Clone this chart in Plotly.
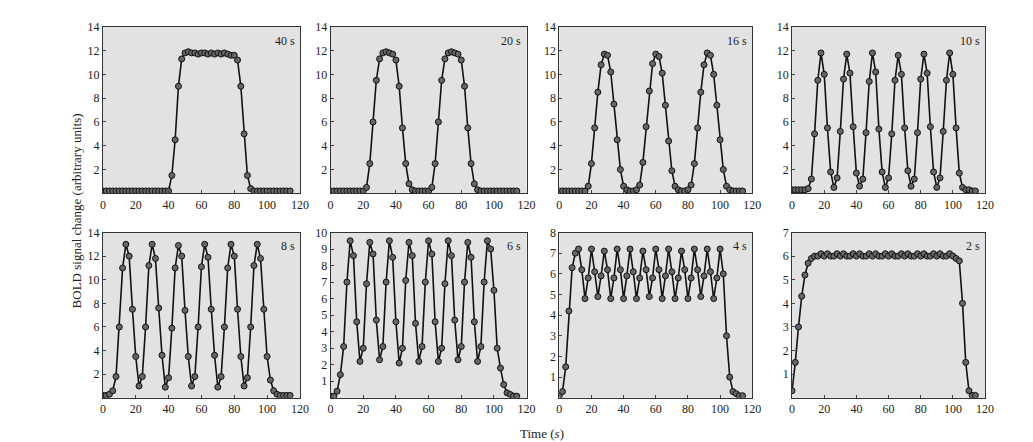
import plotly.graph_objects as go
from plotly.subplots import make_subplots

# sample times (s)
time_s = [0, 2, 4, 6, 8, 10, 12, 14, 16, 18, 20, 22, 24, 26, 28, 30, 32, 34, 36, 38,
          40, 42, 44, 46, 48, 50, 52, 54, 56, 58, 60, 62, 64, 66, 68, 70, 72, 74, 76, 78,
          80, 82, 84, 86, 88, 90, 92, 94, 96, 98, 100, 102, 104, 106, 108, 110, 112, 114]

bold_40s = [0.2] * 21 + [1.5, 4.5, 9, 11.3, 11.8,
            11.9, 11.8, 11.8, 11.7, 11.8, 11.8, 11.7, 11.8, 11.7, 11.8, 11.7, 11.8, 11.7, 11.6, 11.6,
            11.2, 9, 5, 1.5, 0.4] + [0.2] * 12
bold_20s = [0.2] * 11 + [0.5, 2.5, 6, 9.5, 11.3, 11.8, 11.9, 11.8, 11.7, 11.2, 9, 5.5, 2.5, 0.8, 0.3,
            0.2, 0.2, 0.2, 0.2, 0.2,
            0.5, 2.5, 6, 9.5, 11.3, 11.8, 11.9, 11.8, 11.7, 11.2, 9, 5.5, 2.5, 0.8, 0.3] + [0.2] * 12
bold_16s = [0.2] * 9 + [0.6, 2.5, 5.5, 8.5, 10.8, 11.7, 11.6, 10.2, 7.5, 4.5, 2.0, 0.6, 0.3, 0.2, 0.2, 0.3,
            0.7, 2.6, 5.6, 8.6, 10.9, 11.7, 11.5, 10.1, 7.4, 4.4, 1.9, 0.6, 0.3, 0.2, 0.2, 0.3,
            0.7, 2.5, 5.5, 8.5, 10.8, 11.8, 11.6, 10.0, 7.4, 4.5, 2.0, 0.6, 0.3, 0.2, 0.2, 0.2, 0.2]
bold_10s = [0.3, 0.3, 0.3, 0.3, 0.3, 0.4,
            1.2, 5, 9.5, 11.8, 10, 5.5, 1.8, 0.5,
            1.3, 5.2, 9.6, 11.7, 10.1, 5.6, 1.7, 0.6,
            1.2, 5.1, 9.4, 11.8, 10.2, 5.4, 1.8, 0.5,
            1.3, 5, 9.5, 11.6, 10, 5.5, 1.9, 0.6,
            1.2, 5.1, 9.6, 11.7, 10.1, 5.6, 1.8, 0.5,
            1.3, 5.2, 9.5, 11.8, 10, 5.5, 1.7, 0.5,
            0.3, 0.3, 0.2, 0.2]
bold_8s = [0.2, 0.2, 0.3, 0.6,
           1.8, 6, 11, 13, 12, 7.5, 3.5, 1.0,
           1.8, 6, 11.2, 13, 11.8, 7.6, 3.6, 0.9,
           1.7, 5.9, 11, 12.9, 12, 7.4, 3.5, 1.0,
           1.8, 6, 11.1, 13, 11.9, 7.5, 3.6, 0.9,
           1.8, 6, 11, 13, 12, 7.5, 3.5, 1.0,
           1.7, 6, 11.2, 13, 11.8, 7.5, 3.5, 1.5,
           0.6, 0.3, 0.2, 0.2, 0.2, 0.2]
bold_6s = [0.1, 0.1, 0.4, 1.4,
           3.1, 7, 9.5, 8.6, 4.6, 2.2,
           3.0, 6.9, 9.4, 8.7, 4.7, 2.3,
           3.1, 7, 9.5, 8.5, 4.6, 2.1,
           3.0, 7.1, 9.4, 8.6, 4.5, 2.2,
           3.1, 7, 9.5, 8.7, 4.6, 2.2,
           3.0, 6.9, 9.5, 8.6, 4.7, 2.3,
           3.1, 7, 9.4, 8.5, 4.6, 2.2,
           3.1, 7, 9.5, 9.0, 6.5, 3.0, 1.8, 0.8, 0.3, 0.2, 0.1, 0.1]
bold_4s = [0.1, 0.3, 1.5, 4.2, 6.3, 7.0,
           7.2, 6.2, 4.8, 5.8, 7.2, 6.1, 4.9, 5.9, 7.1, 6.2, 4.8, 5.8, 7.2, 6.2, 4.8, 5.9,
           7.2, 6.1, 4.8, 5.8, 7.1, 6.2, 4.9, 5.8, 7.2, 6.2, 4.8, 5.9, 7.2, 6.1, 4.8, 5.8,
           7.1, 6.2, 4.8, 5.8, 7.2, 6.2, 4.9, 5.9, 7.2, 6.1, 4.8, 5.8, 7.2, 6.0,
           3.0, 1.0, 0.3, 0.2, 0.1, 0.1]
bold_2s = [0.3, 1.5, 3.0, 4.3, 5.2, 5.7, 5.9, 6.0,
           6.0, 6.1, 6.0, 6.1, 6.0, 6.0, 6.1, 6.0, 6.1, 6.0, 6.0, 6.1, 6.0, 6.1, 6.0, 6.0,
           6.1, 6.0, 6.1, 6.0, 6.0, 6.1, 6.0, 6.1, 6.0, 6.0, 6.1, 6.0, 6.1, 6.0, 6.0, 6.1,
           6.0, 6.1, 6.0, 6.0, 6.1, 6.0, 6.1, 6.0, 6.0, 6.1, 6.0, 5.9,
           5.8, 4.0, 1.5, 0.3, 0.1, 0.1]

panels = [("40 s", bold_40s, 14), ("20 s", bold_20s, 14), ("16 s", bold_16s, 14), ("10 s", bold_10s, 14),
          ("8 s", bold_8s, 14), ("6 s", bold_6s, 10), ("4 s", bold_4s, 8), ("2 s", bold_2s, 7)]

x_domains = [[0.090, 0.283], [0.313, 0.505], [0.537, 0.726], [0.765, 0.954]]
y_domains = [[0.590, 0.973], [0.120, 0.500]]

fig = make_subplots(rows=2, cols=4)
font = dict(family="Liberation Serif", size=12, color="#222")

for k, (label, vals, ymax) in enumerate(panels):
    r, c = k // 4 + 1, k % 4 + 1
    fig.add_trace(go.Scatter(x=time_s, y=vals, mode="lines+markers",
                             line=dict(color="#111", width=1.6),
                             marker=dict(size=6, color="#666", line=dict(color="#111", width=1)),
                             showlegend=False), row=r, col=c)
    step = 1 if ymax <= 10 else 2
    fig.update_xaxes(domain=x_domains[c - 1], range=[0, 120], tickvals=[0, 20, 40, 60, 80, 100, 120],
                     showgrid=False, zeroline=False, showline=True, linecolor="#333", mirror=True,
                     ticks="inside", ticklen=3, tickfont=font, row=r, col=c)
    fig.update_yaxes(domain=y_domains[r - 1], range=[0, ymax],
                     tickvals=list(range(step, ymax + 1, step)),
                     showgrid=False, zeroline=False, showline=True, linecolor="#333", mirror=True,
                     ticks="inside", ticklen=3, tickfont=font, row=r, col=c)
    xa = "x" if k == 0 else f"x{k + 1}"
    ya = "y" if k == 0 else f"y{k + 1}"
    fig.add_annotation(x=118, y=ymax * 0.97, xref=xa, yref=ya, text=label, showarrow=False,
                       xanchor="right", yanchor="top", font=font)

fig.add_annotation(x=0.055, y=0.55, xref="paper", yref="paper", text="BOLD signal change (arbitrary units)",
                   textangle=-90, showarrow=False, font=dict(family="Liberation Serif", size=13, color="#222"))
fig.add_annotation(x=0.52, y=0.015, xref="paper", yref="paper", text="Time (<i>s</i>)", yanchor="bottom",
                   showarrow=False, font=dict(family="Liberation Serif", size=13, color="#222"))

fig.update_layout(width=1033, height=442, margin=dict(l=0, r=0, t=0, b=0),
                  paper_bgcolor="white", plot_bgcolor="#e2e2e2")
fig.write_html("out.html")
